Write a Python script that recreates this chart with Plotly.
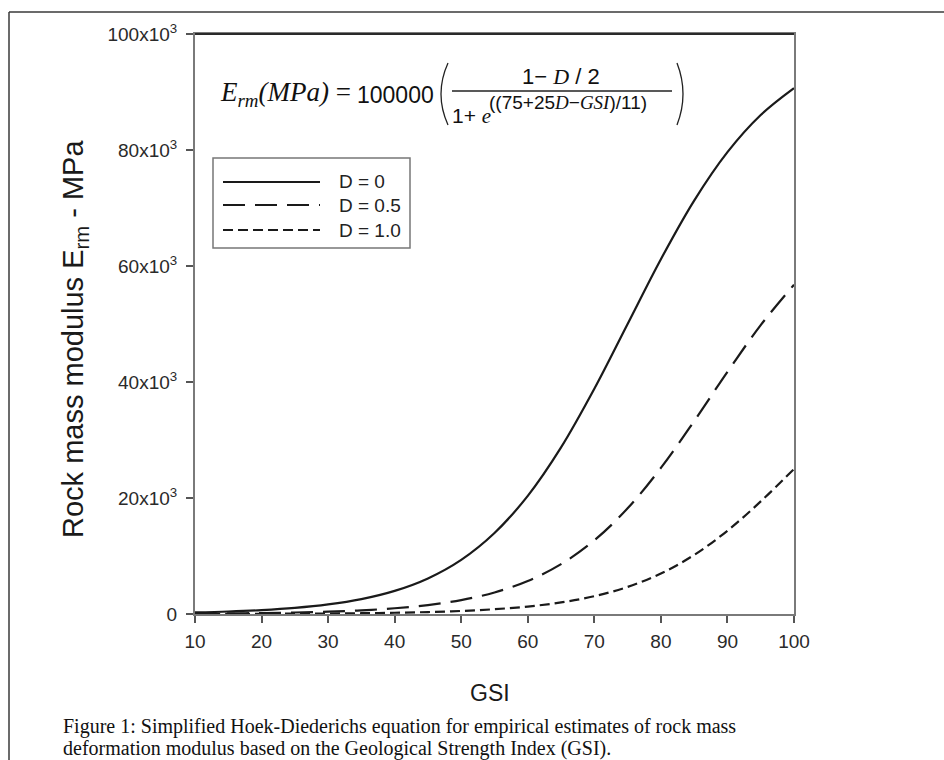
import plotly.graph_objects as go

# GSI values and rock mass modulus (MPa) for each disturbance factor D
gsi = [10, 15, 20, 25, 30, 35, 40, 45, 50, 55, 60, 65, 70, 75, 80, 85, 90, 95, 100]
erm_d0 = [270, 430, 670, 1050, 1650, 2570, 3990, 6140, 9340, 13970, 20370,
          28720, 38830, 50000, 61170, 71280, 79630, 86030, 90660]
erm_d05 = [65, 100, 160, 255, 400, 630, 990, 1540, 2400, 3710, 5690,
           8590, 12700, 18220, 25190, 33260, 41750, 49810, 56780]
erm_d10 = [14, 22, 35, 55, 86, 135, 213, 335, 525, 822, 1283,
           1993, 3069, 4670, 6983, 10183, 14359, 19414, 25000]

series_names = ["D = 0", "D = 0.5", "D = 1.0"]
x_ticks = [10, 20, 30, 40, 50, 60, 70, 80, 90, 100]
y_ticks = [0, 20000, 40000, 60000, 80000, 100000]
y_ticklabels = ["0", "20x10<sup>3</sup>", "40x10<sup>3</sup>", "60x10<sup>3</sup>",
                "80x10<sup>3</sup>", "100x10<sup>3</sup>"]

W, H = 944, 760
L, R, T, B = 195, 150, 34, 146
PW, PH = W - L - R, H - T - B


def px(x):
    return (x - L) / PW


def py(y):
    return (T + PH - y) / PH


SANS = "Liberation Sans, Arial, sans-serif"
SERIF = "Liberation Serif, Times New Roman, serif"
INK = "#1a1a1a"

styles = [
    dict(color=INK, width=2.2, dash="solid"),
    dict(color=INK, width=2.2, dash="22px,10px"),
    dict(color=INK, width=2.2, dash="10px,5px"),
]

fig = go.Figure()
for name, ys, st in zip(series_names, [erm_d0, erm_d05, erm_d10], styles):
    fig.add_trace(go.Scatter(
        x=gsi, y=ys, name=name, mode="lines",
        line=dict(shape="spline", smoothing=1.0, **st),
        showlegend=False,
    ))

shapes = []
annotations = []


def note(x, y, text, size, family=SANS, xanchor="left", yanchor="middle",
         color="#111", **kw):
    annotations.append(dict(xref="paper", yref="paper", x=px(x), y=py(y),
                            xanchor=xanchor, yanchor=yanchor, showarrow=False,
                            borderpad=0, text=text,
                            font=dict(family=family, size=size, color=color), **kw))


# page frame (top and left rule)
shapes.append(dict(type="line", xref="paper", yref="paper",
                   x0=px(9), x1=px(W), y0=py(12), y1=py(12),
                   line=dict(color="#3a3a3a", width=1.5)))
shapes.append(dict(type="line", xref="paper", yref="paper",
                   x0=px(9), x1=px(9), y0=py(12), y1=py(H),
                   line=dict(color="#3a3a3a", width=1.5)))

# darker top edge of the plot frame
shapes.append(dict(type="line", xref="paper", yref="paper",
                   x0=0, x1=1, y0=1, y1=1,
                   line=dict(color="#2a2a2a", width=2)))

# legend box with line samples
shapes.append(dict(type="rect", xref="paper", yref="paper",
                   x0=px(213), x1=px(410), y0=py(158), y1=py(248),
                   line=dict(color="#777777", width=1.5), fillcolor="white"))
for i, (name, st) in enumerate(zip(series_names, styles)):
    yy = [182, 205, 230][i]
    shapes.append(dict(type="line", xref="paper", yref="paper",
                       x0=px(223), x1=px(320), y0=py(yy), y1=py(yy),
                       line=st))
    note(338, yy, name, 19, color="#222")

# equation
note(352, 94, "<i>E</i><sub><i>rm</i></sub><i>(MPa)</i> =", 27, family=SERIF,
     xanchor="right")
note(356, 95, "100000", 23)
note(561, 77, '1\u2212 <span style="font-family:Liberation Serif"><i>D</i></span> / 2',
     22, xanchor="center")
note(451, 116, '1+ <span style="font-family:Liberation Serif"><i>e</i></span>', 21)
note(488, 102, '((75+25<span style="font-family:Liberation Serif"><i>D</i></span>\u2212'
     '<span style="font-family:Liberation Serif"><i>GSI</i></span>)/11)', 19)
shapes.append(dict(type="line", xref="paper", yref="paper",
                   x0=px(452), x1=px(672), y0=py(91), y1=py(91),
                   line=dict(color="#222", width=1.3)))
shapes.append(dict(type="path", xref="paper", yref="paper",
                   path=f"M {px(448)},{py(63)} Q {px(434)},{py(94)} {px(448)},{py(125)}",
                   line=dict(color="#222", width=1.3)))
shapes.append(dict(type="path", xref="paper", yref="paper",
                   path=f"M {px(677)},{py(63)} Q {px(689)},{py(94)} {px(677)},{py(125)}",
                   line=dict(color="#222", width=1.3)))

# axis titles
note(75, 339, "Rock mass modulus E<sub>rm</sub> - MPa", 29, xanchor="center",
     color="#1a1a1a", textangle=-90)
note(490, 693, "GSI", 23, xanchor="center", color="#1a1a1a")

# caption
note(62, 726, "Figure 1: Simplified Hoek-Diederichs equation for empirical estimates of rock mass",
     20, family=SERIF)
note(62, 748, "deformation modulus based on the Geological Strength Index (GSI).",
     20, family=SERIF)

axis_common = dict(showline=True, linecolor="#7a7a7a", linewidth=2, mirror=True,
                   ticks="outside", ticklen=7, tickcolor="#555", tickwidth=1.5,
                   showgrid=False, zeroline=False,
                   tickfont=dict(family=SANS, size=19, color="#2a2a2a"))

fig.update_layout(
    width=W, height=H,
    margin=dict(l=L, r=R, t=T, b=B),
    paper_bgcolor="white", plot_bgcolor="white",
    xaxis=dict(range=[10, 100], tickvals=x_ticks, ticktext=[str(v) for v in x_ticks],
               ticklabelstandoff=2, **axis_common),
    yaxis=dict(range=[0, 100000], tickvals=y_ticks, ticktext=y_ticklabels,
               ticklabelstandoff=5, **axis_common),
    shapes=shapes,
    annotations=annotations,
    showlegend=False,
)

fig.write_html("out.html")
